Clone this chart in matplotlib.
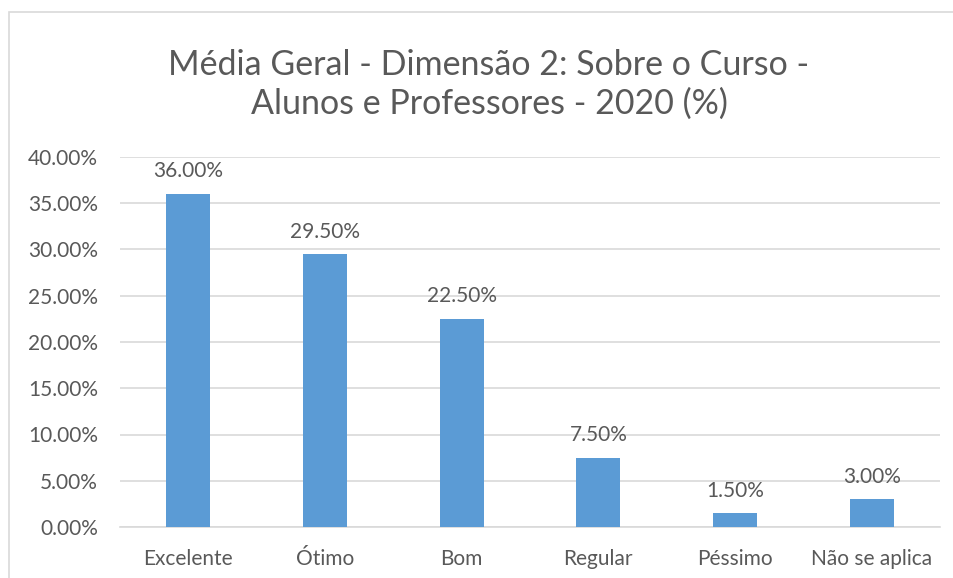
import matplotlib as mpl
mpl.use("Agg")
import matplotlib.pyplot as plt
import numpy as np
from matplotlib.patches import Rectangle

# Data
categories = ["Excelente", "Ótimo", "Bom", "Regular", "Péssimo", "Não se aplica"]
values = [36.0, 29.5, 22.5, 7.5, 1.5, 3.0]
yticks = [0, 5, 10, 15, 20, 25, 30, 35, 40]

txt = "#595959"
bar_color = "#5B9BD5"
grid_color = "#D9D9D9"

plt.rcParams['font.family'] = ['Lato', 'DejaVu Sans']

W, H = 954, 578
f = plt.figure(figsize=(W / 100, H / 100), dpi=100)
ax = f.add_axes([120 / W, 1 - 527 / H, 820 / W, 370 / H])

x = np.arange(len(categories))
ax.bar(x, values, width=0.32, color=bar_color, zorder=3)

for xi, v in zip(x, values):
    ax.annotate(f"{v:.2f}%", (xi, v), xytext=(0, 9), textcoords="offset points",
                ha="center", va="bottom", fontsize=15, color=txt)

ax.set_xlim(-0.5, len(categories) - 0.5)
ax.set_ylim(0, 40)
ax.set_yticks(yticks)
ax.set_yticklabels([f"{t:.2f}%" for t in yticks])
ax.set_xticks(x)
ax.set_xticklabels(categories)
ax.tick_params(axis="both", length=0, labelsize=15, labelcolor=txt)
ax.tick_params(axis="x", pad=16)
ax.tick_params(axis="y", pad=16)
ax.grid(axis="y", color=grid_color, linewidth=1.2, zorder=0)
for s in ["top", "right", "left"]:
    ax.spines[s].set_visible(False)
ax.spines["bottom"].set_color(grid_color)
ax.spines["bottom"].set_linewidth(1.2)

f.text(489 / W, 1 - 84 / H, "Média Geral - Dimensão 2: Sobre o Curso -\nAlunos e Professores - 2020 (%)",
       ha="center", va="center", fontsize=24.5, color=txt, linespacing=1.25)

# chart border
f.patches.append(Rectangle((9 / W, -0.05), 1.0, 1 - 12 / H + 0.05, transform=f.transFigure,
                           fill=False, edgecolor="#D9D9D9", linewidth=1.2))

plt.savefig("out.png", dpi=100)
